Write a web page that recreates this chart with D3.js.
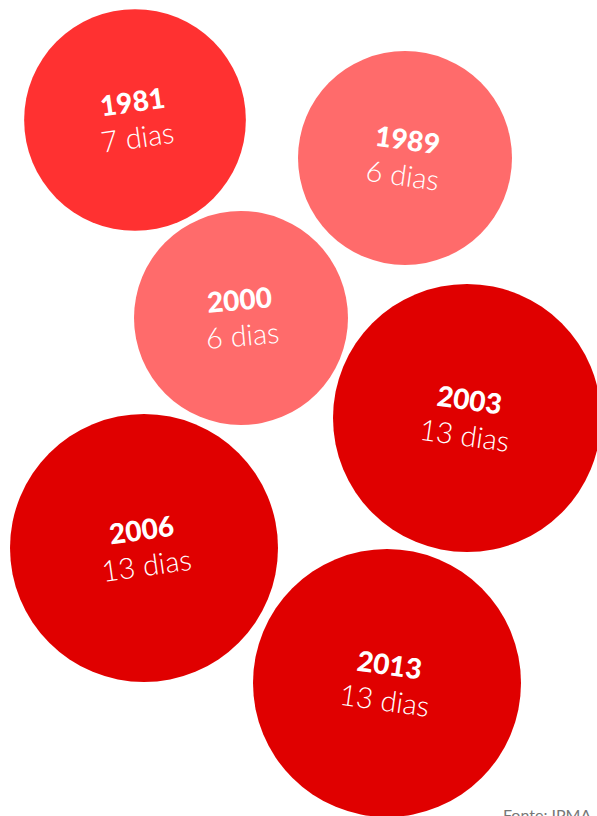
<!DOCTYPE html>
<html>
<head>
<meta charset="utf-8">
<script src="https://cdn.jsdelivr.net/npm/d3@7"></script>
<style>
  body { margin: 0; background: #fff; }
  .year { font-family: Lato, "Noto Sans", sans-serif; font-weight: 900; fill: #fff; }
  .days { font-family: Lato, "Noto Sans", sans-serif; font-weight: 300; fill: #fff; }
  .source { font-family: Lato, "Noto Sans", sans-serif; font-weight: 400; fill: #777; }
</style>
</head>
<body>
<script>
var w = 597;
var h = 816;

// data
var years = ["1981", "1989", "2000", "2003", "2006", "2013"];
var days = [7, 6, 6, 13, 13, 13];

// layout of the bubbles (not data)
var centers = [[135, 120], [405, 158], [241, 318], [467, 418], [144, 548], [387, 683]];
var tilt = [-8, 8, -5, 8, -8, 8];

var svg = d3.select("body")
    .append("svg")
    .attr("width", w)
    .attr("height", h);

var rScale = d3.scaleLinear()
    .domain([6, 13])
    .range([107, 134]);

var colour = d3.scaleOrdinal()
    .domain([6, 7, 13])
    .range(["#ff6b6b", "#ff3131", "#e00000"]);

var rows = years.map((y, i) => ({ year: y, days: days[i], c: centers[i], a: tilt[i] }));

var g = svg.selectAll("g.bubble")
    .data(rows)
    .enter()
    .append("g")
    .attr("class", "bubble")
    .attr("transform", d => "translate(" + d.c[0] + "," + d.c[1] + ")");

g.append("circle")
    .attr("r", d => rScale(d.days))
    .attr("fill", d => colour(d.days));

var lbl = g.append("g")
    .attr("transform", d => "rotate(" + d.a + ")");

lbl.append("text")
    .attr("class", "year")
    .attr("text-anchor", "middle")
    .attr("y", -8)
    .attr("font-size", 28)
    .text(d => d.year);

lbl.append("text")
    .attr("class", "days")
    .attr("text-anchor", "middle")
    .attr("y", 28)
    .attr("font-size", 29)
    .text(d => d.days + " dias");

// source line, sits on the bottom edge as in the original
svg.append("text")
    .attr("class", "source")
    .attr("x", 503)
    .attr("y", 821)
    .attr("font-size", 16)
    .text("Fonte: IPMA");
</script>
</body>
</html>
